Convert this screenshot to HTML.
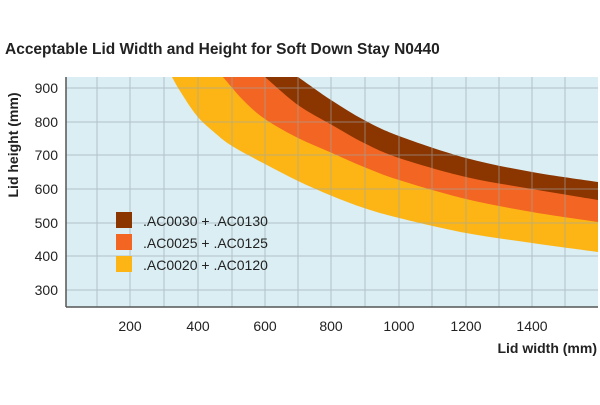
<!DOCTYPE html>
<html><head><style>
body{margin:0;background:#fff;width:600px;height:400px;overflow:hidden;font-family:"Liberation Sans",sans-serif;}
</style></head><body>
<svg width="600" height="400" xmlns="http://www.w3.org/2000/svg" font-family="Liberation Sans, sans-serif">
<text x="5" y="54" font-size="15.5" font-weight="bold" fill="#222">Acceptable Lid Width and Height for Soft Down Stay N0440</text>
<defs><clipPath id="c"><rect x="66" y="77" width="532" height="230"/></clipPath></defs>
<rect x="66" y="77" width="532" height="230" fill="#DAEEF3"/>
<g clip-path="url(#c)">
<path id="p4" fill="#FDB515"/>
<path id="p3" fill="#F26522"/>
<path id="p2" fill="#8B3500"/>
<path id="p1" fill="#DAEEF3"/>
<g stroke="#9aa8ad" stroke-width="1" opacity="0.6">
<line x1="97" y1="77" x2="97" y2="307"/><line x1="130" y1="77" x2="130" y2="307"/><line x1="164" y1="77" x2="164" y2="307"/><line x1="198" y1="77" x2="198" y2="307"/><line x1="232" y1="77" x2="232" y2="307"/><line x1="265" y1="77" x2="265" y2="307"/><line x1="298" y1="77" x2="298" y2="307"/><line x1="331" y1="77" x2="331" y2="307"/><line x1="365" y1="77" x2="365" y2="307"/><line x1="399" y1="77" x2="399" y2="307"/><line x1="432" y1="77" x2="432" y2="307"/><line x1="466" y1="77" x2="466" y2="307"/><line x1="499" y1="77" x2="499" y2="307"/><line x1="532" y1="77" x2="532" y2="307"/><line x1="565" y1="77" x2="565" y2="307"/>
<line x1="66" y1="88" x2="598" y2="88"/><line x1="66" y1="122" x2="598" y2="122"/><line x1="66" y1="155" x2="598" y2="155"/><line x1="66" y1="189" x2="598" y2="189"/><line x1="66" y1="223" x2="598" y2="223"/><line x1="66" y1="256" x2="598" y2="256"/><line x1="66" y1="290" x2="598" y2="290"/>
</g>
</g>
<line x1="66" y1="77" x2="66" y2="307" stroke="#555" stroke-width="1.5"/>
<line x1="66" y1="307" x2="598" y2="307" stroke="#555" stroke-width="1.5"/>
<g font-size="14" fill="#222" text-anchor="end">
<text x="58" y="93">900</text><text x="58" y="127">800</text><text x="58" y="160">700</text><text x="58" y="194">600</text><text x="58" y="228">500</text><text x="58" y="261">400</text><text x="58" y="295">300</text>
</g>
<g font-size="14" fill="#222" text-anchor="middle">
<text x="130" y="331">200</text><text x="198" y="331">400</text><text x="265" y="331">600</text><text x="331" y="331">800</text><text x="399" y="331">1000</text><text x="466" y="331">1200</text><text x="532" y="331">1400</text>
</g>
<text x="597" y="353" font-size="14" font-weight="bold" fill="#222" text-anchor="end">Lid width (mm)</text>
<text transform="translate(18,145) rotate(-90)" font-size="14" font-weight="bold" fill="#222" text-anchor="middle">Lid height (mm)</text>
<rect x="116" y="212" width="16" height="16" fill="#8B3500"/>
<rect x="116" y="234" width="16" height="16" fill="#F26522"/>
<rect x="116" y="256" width="16" height="16" fill="#FDB515"/>
<g font-size="14" fill="#222">
<text x="143" y="226">.AC0030 + .AC0130</text>
<text x="143" y="248">.AC0025 + .AC0125</text>
<text x="143" y="270">.AC0020 + .AC0120</text>
</g>
</svg>
<script>
function cr(p){var d="M"+p[0][0]+","+p[0][1];for(var i=0;i<p.length-1;i++){var a=p[i-1]||p[i],b=p[i],c=p[i+1],e=p[i+2]||c;
d+=" C"+(b[0]+(c[0]-a[0])/6)+","+(b[1]+(c[1]-a[1])/6)+" "+(c[0]-(e[0]-b[0])/6)+","+(c[1]-(e[1]-b[1])/6)+" "+c[0]+","+c[1];}return d;}
function area(id,p){p=p.slice();var f=p[0],s=p[1],l=p[p.length-1],m=p[p.length-2];
p.unshift([f[0]-(s[0]-f[0])*0.5,f[1]-(s[1]-f[1])*0.5]);p.push([l[0]+(l[0]-m[0])*0.3,l[1]+(l[1]-m[1])*0.3]);
document.getElementById(id).setAttribute("d",cr(p)+" L620,60 L"+(p[0][0]-10)+",60 Z");}
area("p1",[[298,77],[331,100],[364,120],[399,136],[466,158],[532,172],[598,182]]);
area("p2",[[265,77],[298,105],[332,125],[364,143],[399,158],[466,177],[532,189],[598,200]]);
area("p3",[[223,77],[243,100],[265,119],[298,138],[332,153],[364,167],[399,180],[466,199],[532,212],[598,222]]);
area("p4",[[172,77],[180,91],[197,116],[215,133],[232,146],[265,164],[298,181],[332,196],[364,208],[399,218],[466,233],[532,243],[598,252]]);
</script>
</body></html>
